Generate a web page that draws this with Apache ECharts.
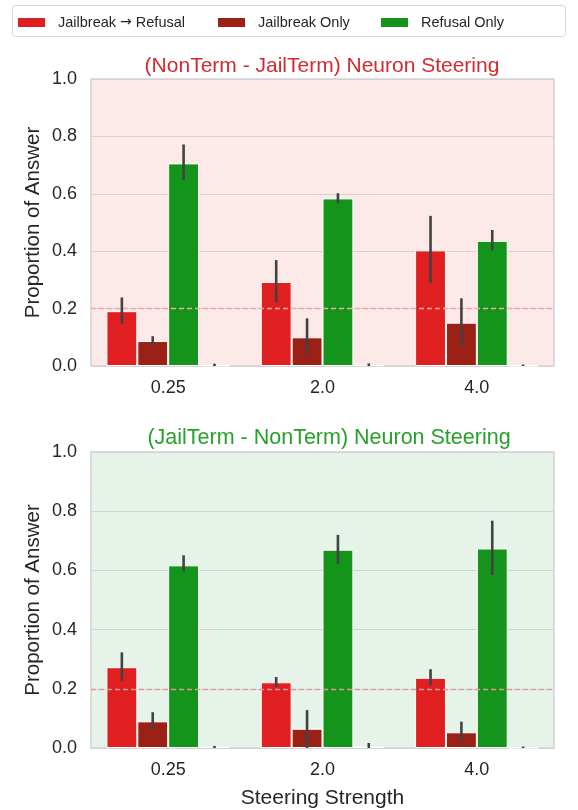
<!DOCTYPE html>
<html>
<head>
<meta charset="utf-8">
<script src="https://cdn.jsdelivr.net/npm/echarts@6/dist/echarts.min.js"></script>
<style>
  html, body { margin: 0; padding: 0; background: #ffffff; }
  #chart { width: 578px; height: 810px; }
</style>
</head>
<body>
<div id="chart"></div>
<script>
// Steering strengths on the x axis
const categories = ['0.25', '2.0', '4.0'];
const seriesNames = ['Jailbreak \u2192 Refusal', 'Jailbreak Only', 'Refusal Only', 'Neither'];
const yTicks = [0, 0.2, 0.4, 0.6, 0.8, 1.0];
const chanceLevel = 0.2;

// (NonTerm - JailTerm) steering: means and error ranges [low, high]
const topJailRefusal = [0.191, 0.293, 0.403];
const topJailRefusalErr = [[0.148, 0.239], [0.223, 0.369], [0.289, 0.523]];
const topJailOnly = [0.087, 0.100, 0.151];
const topJailOnlyErr = [[0.071, 0.104], [0.038, 0.166], [0.071, 0.236]];
const topRefusalOnly = [0.706, 0.584, 0.436];
const topRefusalOnlyErr = [[0.647, 0.772], [0.567, 0.602], [0.403, 0.474]];
const topNeither = [0.002, 0.003, 0.001];
const topNeitherErr = [[0, 0.008], [0, 0.009], [0, 0.005]];

// (JailTerm - NonTerm) steering: means and error ranges [low, high]
const botJailRefusal = [0.273, 0.222, 0.237];
const botJailRefusalErr = [[0.227, 0.323], [0.206, 0.240], [0.211, 0.266]];
const botJailOnly = [0.090, 0.065, 0.053];
const botJailOnlyErr = [[0.064, 0.121], [0.0, 0.128], [0.019, 0.089]];
const botRefusalOnly = [0.617, 0.670, 0.674];
const botRefusalOnlyErr = [[0.597, 0.651], [0.623, 0.720], [0.585, 0.768]];
const botNeither = [0.004, 0.005, 0.001];
const botNeitherErr = [[0, 0.007], [0, 0.017], [0, 0.005]];

const colors = ['#e02020', '#9b2016', '#14941a', '#cfcfcf'];
const FONT = '"Liberation Sans", Arial, sans-serif';
const TEXT = '#262626';

const chart = echarts.init(document.getElementById('chart'), null, { renderer: 'canvas' });

function barSeries(name, values, axisIdx, colorIdx, extra) {
  return Object.assign({
    name: name,
    type: 'bar',
    xAxisIndex: axisIdx,
    yAxisIndex: axisIdx,
    data: values,
    barGap: '0%',
    barCategoryGap: '20%',
    itemStyle: { color: colors[colorIdx], borderColor: '#ffffff', borderWidth: 1 },
    emphasis: { disabled: true },
    z: 3
  }, extra || {});
}

function errorSeries(errs, axisIdx) {
  // errs: one list per hue, each holding [low, high] per category
  const data = [];
  errs.forEach((list, k) => {
    list.forEach((e, i) => data.push([i, e[0], e[1], k]));
  });
  return {
    type: 'custom',
    xAxisIndex: axisIdx,
    yAxisIndex: axisIdx,
    silent: true,
    z: 10,
    encode: { x: 0, y: [1, 2] },
    data: data,
    renderItem: function (params, api) {
      const ci = api.value(0);
      const k = api.value(3);
      const band = api.size([1, 0])[0];
      const barW = band * 0.8 / 4;
      const cx = api.coord([ci, 0])[0] + (k - 1.5) * barW;
      const lo = api.coord([ci, api.value(1)])[1];
      const hi = api.coord([ci, api.value(2)])[1];
      return {
        type: 'line',
        shape: { x1: cx, y1: lo, x2: cx, y2: hi },
        style: { stroke: '#424242', lineWidth: 2.6 }
      };
    }
  };
}

function chanceLine(color) {
  return {
    silent: true,
    symbol: 'none',
    label: { show: false },
    lineStyle: { color: color, type: [5, 3], width: 1.3 },
    data: [{ yAxis: chanceLevel }]
  };
}

function yAxisCfg(gridIndex) {
  return {
    gridIndex: gridIndex,
    type: 'value',
    min: yTicks[0],
    max: yTicks[yTicks.length - 1],
    interval: 0.2,
    name: 'Proportion of Answer',
    nameLocation: 'middle',
    nameGap: 47,
    nameMoveOverlap: false,
    nameTextStyle: { fontFamily: FONT, fontSize: 20.5, color: TEXT },
    axisLine: { show: false },
    axisTick: { show: false },
    axisLabel: {
      fontFamily: FONT, fontSize: 18, color: TEXT, margin: 14,
      formatter: v => v.toFixed(1)
    },
    splitLine: { show: true, lineStyle: { color: '#d3d3d3', width: 1 } }
  };
}

function xAxisCfg(gridIndex, withName) {
  return {
    gridIndex: gridIndex,
    type: 'category',
    data: categories,
    name: withName ? 'Steering Strength' : '',
    nameLocation: 'middle',
    nameGap: 40,
    nameTextStyle: { fontFamily: FONT, fontSize: 21, color: TEXT },
    axisLine: { show: false },
    axisTick: { show: false },
    axisLabel: { fontFamily: FONT, fontSize: 18, color: TEXT, margin: 13 },
    splitLine: { show: false }
  };
}

function legendCfg(name, left) {
  return {
    data: [name],
    top: 10,
    left: left,
    itemWidth: 29,
    itemHeight: 11,
    icon: 'rect',
    selectedMode: false,
    formatter: n => n.indexOf('\u2192') >= 0
      ? n.split('\u2192').map(s => '{a|' + s + '}').join('{b|\u2192}')
      : '{a|' + n + '}',
    textStyle: {
      padding: [0, 0, 0, 7],
      rich: {
        a: { fontFamily: FONT, fontSize: 14.5, color: TEXT },
        b: { fontFamily: '"DejaVu Sans", sans-serif', fontSize: 14, color: TEXT }
      }
    }
  };
}

const option = {
  backgroundColor: '#ffffff',
  animation: false,
  graphic: [{
    type: 'rect',
    shape: { x: 12.5, y: 5.5, width: 553, height: 31, r: 3 },
    style: { fill: '#ffffff', stroke: '#d6d6d6', lineWidth: 1 },
    z: 0
  }],
  legend: [
    legendCfg(seriesNames[0], 11),
    legendCfg(seriesNames[1], 211),
    legendCfg(seriesNames[2], 374)
  ],
  title: [
    {
      text: '(NonTerm - JailTerm) Neuron Steering',
      left: 317, top: 51, textAlign: 'center',
      textStyle: { fontFamily: FONT, fontSize: 21, fontWeight: 'normal', color: '#d42a2f' }
    },
    {
      text: '(JailTerm - NonTerm) Neuron Steering',
      left: 324, top: 422, textAlign: 'center',
      textStyle: { fontFamily: FONT, fontSize: 21.5, fontWeight: 'normal', color: '#27a12b' }
    }
  ],
  grid: [
    { left: 91, right: 24, top: 79, height: 287, show: true,
      backgroundColor: '#fde9e7', borderColor: '#d2d2d2', borderWidth: 1.5 },
    { left: 91, right: 24, top: 452, height: 298, show: true,
      backgroundColor: '#e6f3e8', borderColor: '#d2d2d2', borderWidth: 1.5 }
  ],
  xAxis: [xAxisCfg(0, false), xAxisCfg(1, true)],
  yAxis: [yAxisCfg(0), yAxisCfg(1)],
  series: [
    barSeries(seriesNames[0], topJailRefusal, 0, 0, { markLine: chanceLine('#f2a9a9') }),
    barSeries(seriesNames[1], topJailOnly, 0, 1),
    barSeries(seriesNames[2], topRefusalOnly, 0, 2),
    barSeries(seriesNames[3], topNeither, 0, 3),
    errorSeries([topJailRefusalErr, topJailOnlyErr, topRefusalOnlyErr, topNeitherErr], 0),
    barSeries(seriesNames[0], botJailRefusal, 1, 0, { markLine: chanceLine('#d99a9a') }),
    barSeries(seriesNames[1], botJailOnly, 1, 1),
    barSeries(seriesNames[2], botRefusalOnly, 1, 2),
    barSeries(seriesNames[3], botNeither, 1, 3),
    errorSeries([botJailRefusalErr, botJailOnlyErr, botRefusalOnlyErr, botNeitherErr], 1)
  ]
};

chart.setOption(option);
</script>
</body>
</html>
